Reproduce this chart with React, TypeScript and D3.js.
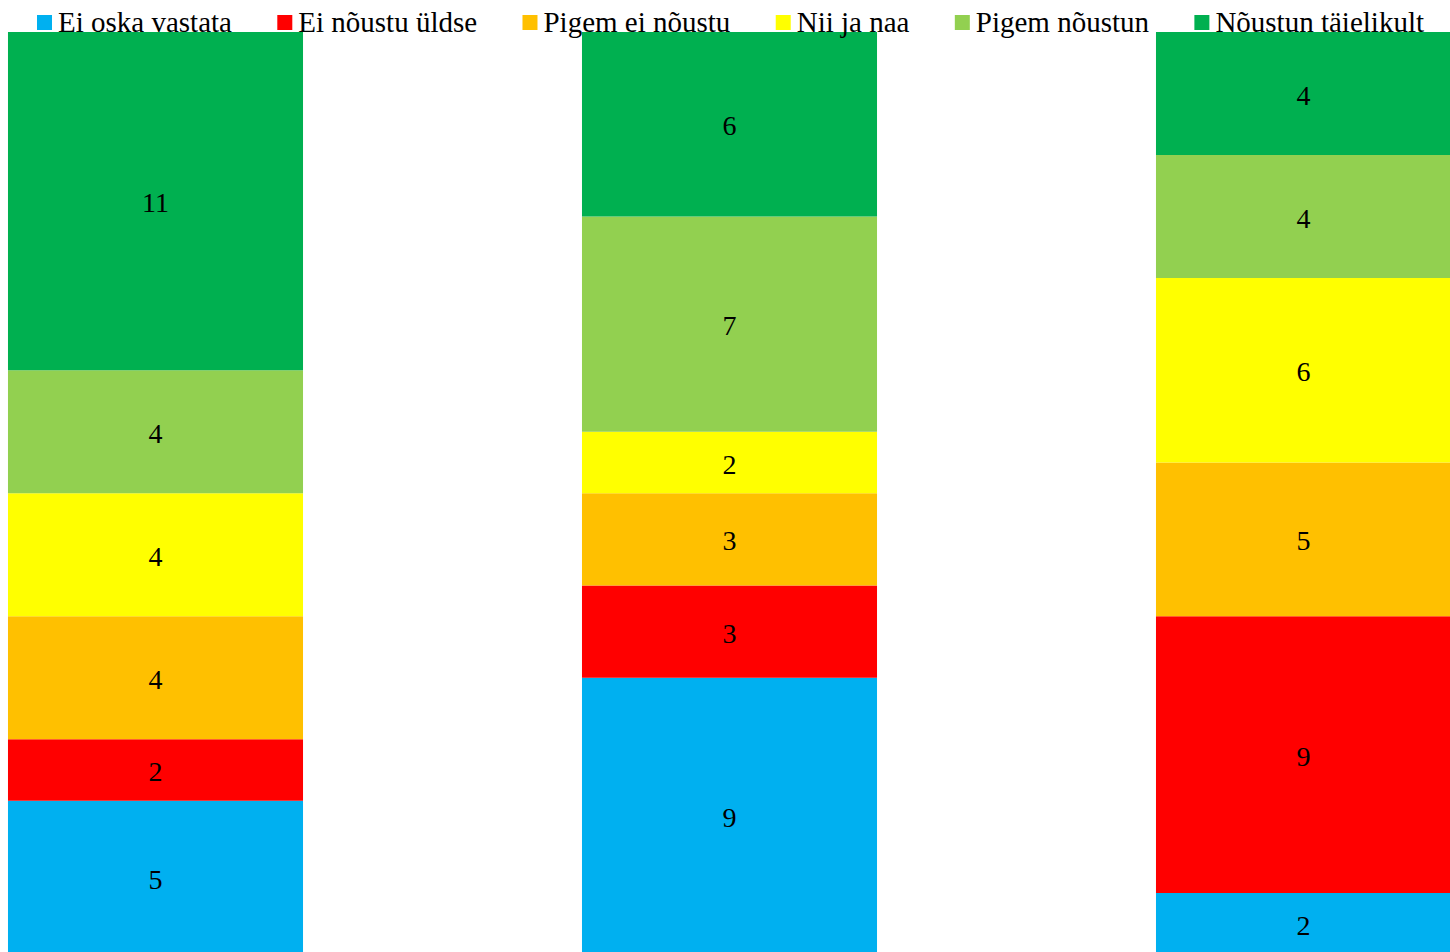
import React, { useMemo } from "react";
import * as d3 from "d3";

const categories = ["A", "B", "C"];
const seriesNames = ["Ei oska vastata", "Ei nõustu üldse", "Pigem ei nõustu", "Nii ja naa", "Pigem nõustun", "Nõustun täielikult"];
const seriesColors = ["#00B0F0", "#FF0000", "#FFC000", "#FFFF00", "#92D050", "#00B050"];
const eiOskaVastata = [5, 9, 2];
const eiNoustuUldse = [2, 3, 9];
const pigemEiNoustu = [4, 3, 5];
const niiJaNaa = [4, 2, 6];
const pigemNoustun = [4, 7, 4];
const noustunTaielikult = [11, 6, 4];
const yMax = 30;

const W = 1450;
const H = 952;
const FONT = "'Liberation Serif', 'Times New Roman', serif";

function measure(text: string, size: number) {
  const c = document.createElement("canvas");
  const ctx = c.getContext("2d")!;
  ctx.font = `${size}px 'Liberation Serif'`;
  return ctx.measureText(text).width;
}

export default function App() {
  const seriesValues = [eiOskaVastata, eiNoustuUldse, pigemEiNoustu, niiJaNaa, pigemNoustun, noustunTaielikult];
  const rows = categories.map((c, i) => {
    const r: any = { cat: c };
    seriesNames.forEach((s, j) => (r[s] = seriesValues[j][i]));
    return r;
  });
  const stack = d3.stack<any>().keys(seriesNames)(rows);

  const x = d3.scaleBand<string>().domain(categories).range([-131.5, 1590.5]).paddingInner(0.486).paddingOuter(0.243);
  const y = d3.scaleLinear().domain([0, yMax]).range([954.5, 32]);

  const legendSize = 29;
  const legend = useMemo(() => {
    const sq = 15, gapSq = 6;
    const left = 37, right = 1424;
    const widths = seriesNames.map((s) => measure(s, legendSize));
    const used = widths.reduce((a, b) => a + b, 0) + seriesNames.length * (sq + gapSq);
    const gapItem = (right - left - used) / (seriesNames.length - 1);
    let cx = left;
    return seriesNames.map((s, i) => {
      const item = { name: s, color: seriesColors[i], x: cx, tx: cx + sq + gapSq };
      cx += sq + gapSq + widths[i] + gapItem;
      return item;
    });
  }, []);

  return (
    <svg width={W} height={H} style={{ position: "absolute", left: 0, top: 0, background: "#fff" }} fontFamily={FONT}>
      {stack.map((layer, j) =>
        layer.map((d, i) => {
          const x0 = x(categories[i])!;
          const y0 = y(d[1]);
          const y1 = y(d[0]);
          return (
            <g key={`${j}-${i}`}>
              <rect x={x0} y={y0} width={x.bandwidth()} height={y1 - y0} fill={seriesColors[j]} />
              <text x={x0 + x.bandwidth() / 2} y={(y0 + y1) / 2 + 1.5} textAnchor="middle" dominantBaseline="central" fontSize={28} fill="#000">
                {d[1] - d[0]}
              </text>
            </g>
          );
        })
      )}
      {legend.map((l) => (
        <g key={l.name}>
          <rect x={l.x} y={15} width={15} height={15} fill={l.color} />
          <text x={l.tx} y={31.5} fontSize={legendSize} fill="#000">
            {l.name}
          </text>
        </g>
      ))}
    </svg>
  );
}
